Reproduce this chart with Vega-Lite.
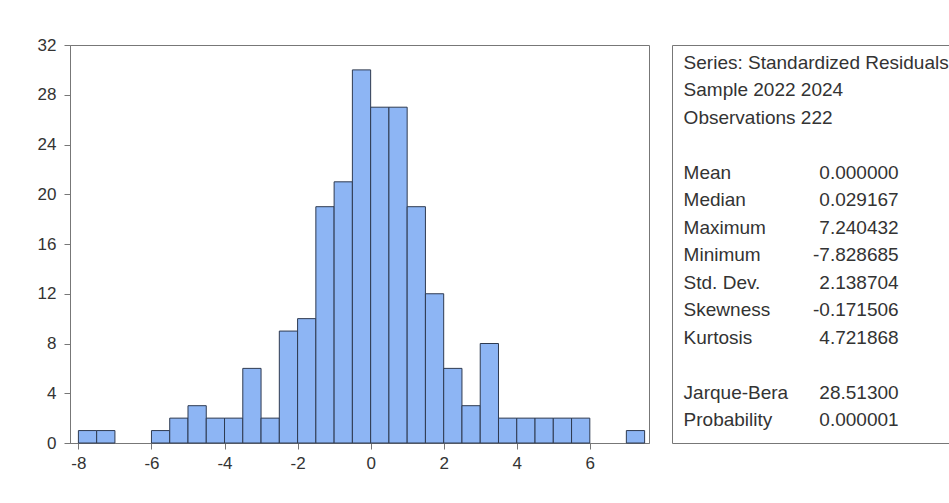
{
  "$schema": "https://vega.github.io/schema/vega-lite/v6.json",
  "background": "white",
  "padding": {"left": 36, "top": 35, "right": 0, "bottom": 0},
  "config": {
    "font": "Liberation Sans",
    "view": {"stroke": null},
    "concat": {"spacing": 22}
  },
  "hconcat": [
    {
      "width": 579,
      "height": 398,
      "view": {"stroke": "#777", "strokeWidth": 1},
      "data": {
        "values": [
          {"bin_start": -8.0, "bin_end": -7.5, "count": 1},
          {"bin_start": -7.5, "bin_end": -7.0, "count": 1},
          {"bin_start": -6.0, "bin_end": -5.5, "count": 1},
          {"bin_start": -5.5, "bin_end": -5.0, "count": 2},
          {"bin_start": -5.0, "bin_end": -4.5, "count": 3},
          {"bin_start": -4.5, "bin_end": -4.0, "count": 2},
          {"bin_start": -4.0, "bin_end": -3.5, "count": 2},
          {"bin_start": -3.5, "bin_end": -3.0, "count": 6},
          {"bin_start": -3.0, "bin_end": -2.5, "count": 2},
          {"bin_start": -2.5, "bin_end": -2.0, "count": 9},
          {"bin_start": -2.0, "bin_end": -1.5, "count": 10},
          {"bin_start": -1.5, "bin_end": -1.0, "count": 19},
          {"bin_start": -1.0, "bin_end": -0.5, "count": 21},
          {"bin_start": -0.5, "bin_end": 0.0, "count": 30},
          {"bin_start": 0.0, "bin_end": 0.5, "count": 27},
          {"bin_start": 0.5, "bin_end": 1.0, "count": 27},
          {"bin_start": 1.0, "bin_end": 1.5, "count": 19},
          {"bin_start": 1.5, "bin_end": 2.0, "count": 12},
          {"bin_start": 2.0, "bin_end": 2.5, "count": 6},
          {"bin_start": 2.5, "bin_end": 3.0, "count": 3},
          {"bin_start": 3.0, "bin_end": 3.5, "count": 8},
          {"bin_start": 3.5, "bin_end": 4.0, "count": 2},
          {"bin_start": 4.0, "bin_end": 4.5, "count": 2},
          {"bin_start": 4.5, "bin_end": 5.0, "count": 2},
          {"bin_start": 5.0, "bin_end": 5.5, "count": 2},
          {"bin_start": 5.5, "bin_end": 6.0, "count": 2},
          {"bin_start": 7.0, "bin_end": 7.5, "count": 1}
        ]
      },
      "mark": {"type": "bar", "fill": "#8db5f4", "stroke": "#2e3a50", "strokeWidth": 1, "opacity": 1},
      "encoding": {
        "x": {
          "field": "bin_start", "type": "quantitative",
          "scale": {"domain": [-8.23, 7.62], "nice": false, "zero": false},
          "axis": {
            "title": null, "grid": false,
            "values": [-8, -6, -4, -2, 0, 2, 4, 6],
            "labelExpr": "'' + datum.value",
            "tickSize": 6, "labelPadding": 6,
            "labelFontSize": 17, "labelColor": "#333",
            "domainColor": "#777", "tickColor": "#777"
          }
        },
        "x2": {"field": "bin_end"},
        "y": {
          "field": "count", "type": "quantitative",
          "scale": {"domain": [0, 32], "nice": false},
          "axis": {
            "title": null, "grid": false,
            "values": [0, 4, 8, 12, 16, 20, 24, 28, 32],
            "tickSize": 6, "labelPadding": 8,
            "labelFontSize": 17, "labelColor": "#333",
            "domainColor": "#777", "tickColor": "#777"
          }
        },
        "y2": {"datum": 0}
      }
    },
    {
      "width": 277,
      "height": 398,
      "data": {
        "values": [
          {"label": "Series: Standardized Residuals", "value": ""},
          {"label": "Sample 2022 2024", "value": ""},
          {"label": "Observations 222", "value": ""},
          {"label": "Mean", "value": "0.000000"},
          {"label": "Median", "value": "0.029167"},
          {"label": "Maximum", "value": "7.240432"},
          {"label": "Minimum", "value": "-7.828685"},
          {"label": "Std. Dev.", "value": "2.138704"},
          {"label": "Skewness", "value": "-0.171506"},
          {"label": "Kurtosis", "value": "4.721868"},
          {"label": "Jarque-Bera", "value": "28.51300"},
          {"label": "Probability", "value": "0.000001"}
        ]
      },
      "encoding": {
        "y": {
          "field": "label", "type": "nominal",
          "scale": {
            "type": "point",
            "domain": ["Series: Standardized Residuals", "Sample 2022 2024", "Observations 222", " ", "Mean", "Median", "Maximum", "Minimum", "Std. Dev.", "Skewness", "Kurtosis", "  ", "Jarque-Bera", "Probability"],
            "padding": 0.745,
            "align": 0.44
          },
          "axis": {"title": null, "labels": false, "ticks": false, "grid": false, "domainColor": "#777"}
        }
      },
      "layer": [
        {
          "mark": {"type": "text", "align": "left", "baseline": "middle", "fontSize": 19, "color": "#333"},
          "encoding": {
            "x": {
              "datum": 11.6, "type": "quantitative",
              "scale": {"domain": [0, 277], "nice": false, "zero": false},
              "axis": {"title": null, "labels": false, "ticks": false, "grid": false, "orient": "bottom", "domainColor": "#777"}
            },
            "text": {"field": "label"}
          }
        },
        {
          "mark": {"type": "text", "align": "right", "baseline": "middle", "fontSize": 19, "color": "#333"},
          "encoding": {
            "x": {
              "datum": 226.6, "type": "quantitative",
              "axis": {"title": null, "labels": false, "ticks": false, "grid": false, "orient": "top", "domainColor": "#777"}
            },
            "text": {"field": "value"}
          }
        }
      ],
      "resolve": {"axis": {"x": "independent"}}
    }
  ]
}
